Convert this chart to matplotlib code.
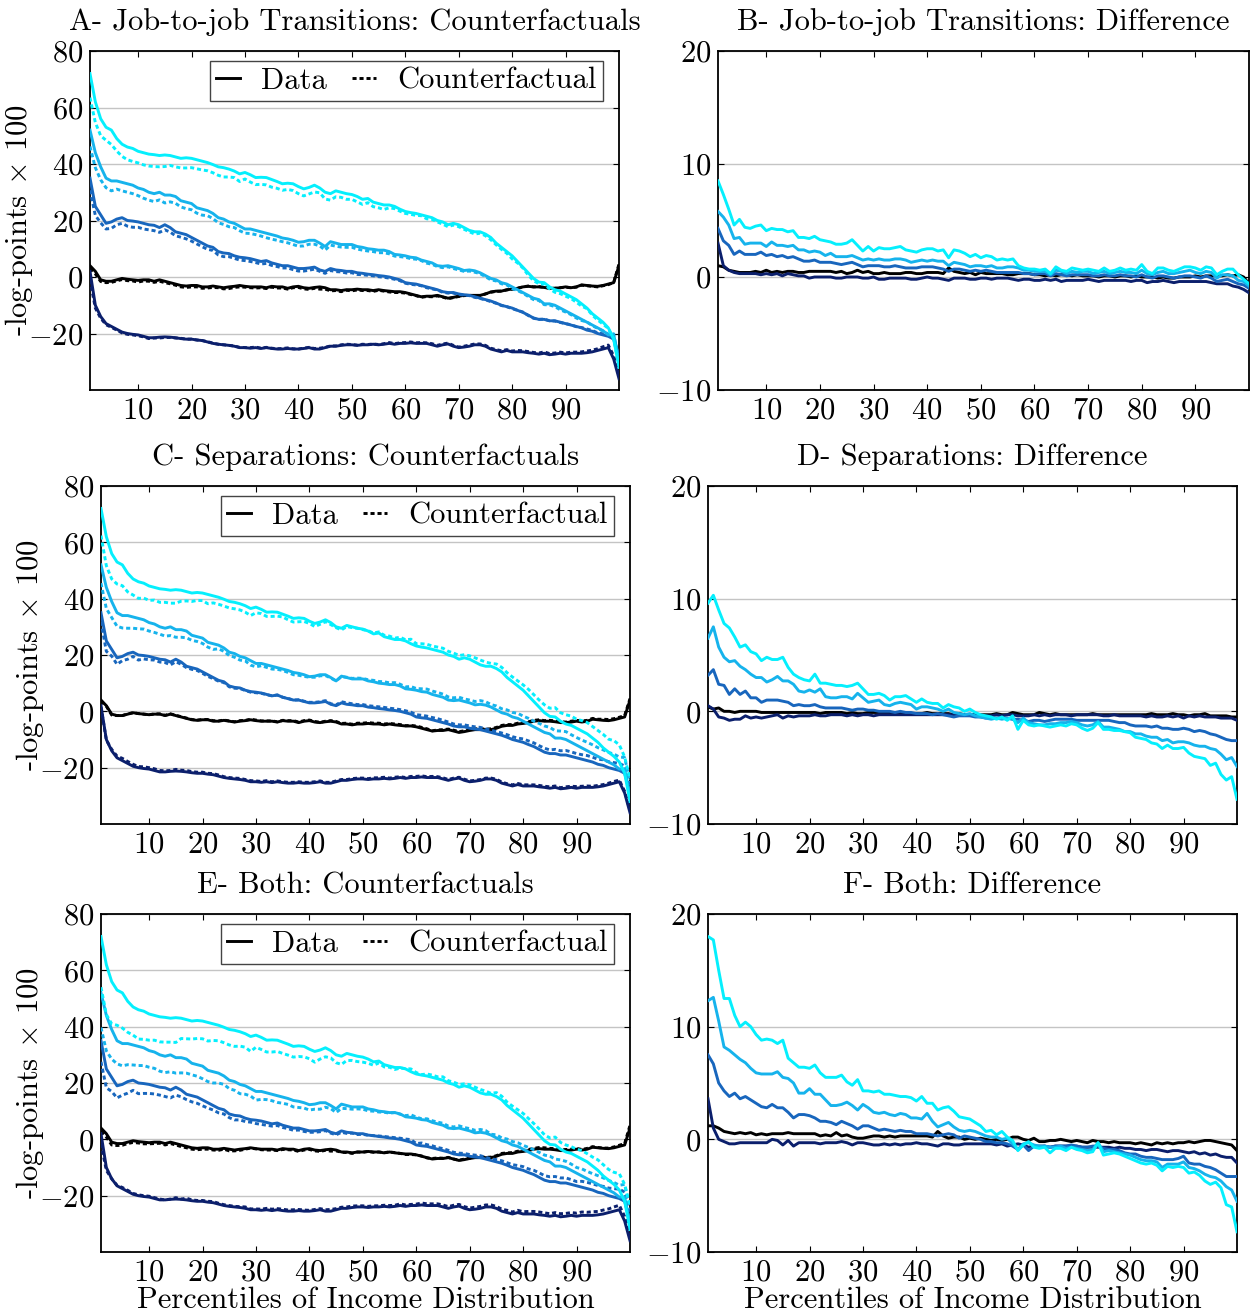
import numpy as np
import matplotlib
matplotlib.use("Agg")
import matplotlib.pyplot as plt
from matplotlib.lines import Line2D

# ---------------- data ----------------
pct = list(range(1, 101))

data_black = [4, 2, -1, -1.5, -1.5, -1, -0.5, -0.8, -1, -1.2, -1, -1, -1.5, -1, -1.5, -2, -2.5, -3, -3.2, -3,
              -3, -3.5, -3.5, -3.2, -3.5, -3.8, -3.5, -3.3, -3, -3.3, -3.5, -3.5, -3.5, -3.8, -3.3, -3.5, -3.5, -4, -3.5, -3.3,
              -3.8, -4, -3.7, -3.5, -3.8, -4.5, -4.5, -4.8, -4.5, -4.5, -4.3, -4.5, -4.5, -4.8, -4.5, -4.8, -5, -5.2, -5.2, -5.5,
              -6, -6.5, -7, -6.8, -6.8, -6.5, -7, -7.5, -7.2, -6.8, -6.5, -6.5, -6.5, -6.5, -6, -5.3, -5, -5, -4.5, -4.3,
              -4, -3.5, -3.3, -3.5, -3.5, -3.7, -4, -4, -3.8, -3.5, -3.8, -3.5, -2.8, -3, -3.2, -3.3, -3, -2.5, -2, 4]
data_navy = [2, -10, -14, -16.5, -17.5, -18.5, -19.5, -20, -20.3, -20.5, -21, -21.5, -21.5, -21.3, -21.2, -21.3, -21.5, -21.8, -22, -22,
             -22.3, -22.5, -23, -23.5, -23.8, -24, -24.2, -24.5, -25, -25, -25.2, -25, -25.3, -25, -25.3, -25.5, -25.5, -25.3, -25.5, -25.5,
             -25.3, -25, -25.5, -25.5, -25, -24.5, -24.5, -24.2, -24, -24, -24.2, -24, -24, -23.8, -24, -23.8, -23.5, -23.8, -23.5, -23.5,
             -23.3, -23.5, -23.5, -23.5, -24, -24.5, -24, -23.7, -24.5, -25, -24.8, -24.5, -24, -24, -24.5, -25.5, -26, -26.5, -26, -26.5,
             -26.5, -26.5, -26.8, -27, -27.3, -27, -27.5, -27.3, -27, -27.3, -27, -27, -27, -26.8, -26.5, -26, -25.5, -25, -29, -36]
data_blue = [35, 25, 22, 19, 19.5, 20.5, 21, 20, 19.8, 19.5, 19, 18.5, 18.3, 17.5, 18.5, 17.5, 16, 15.5, 15, 14,
             13, 12, 11, 10.5, 9, 8.5, 8.3, 7.5, 7, 6.8, 6.5, 6, 5.5, 5.8, 5, 4.5, 4, 4, 3.5, 3,
             3, 3.2, 3.5, 2.5, 2, 3, 2.5, 2.3, 2, 2, 1.5, 1.3, 1, 0.8, 0.5, 0.3, 0, -0.5, -1, -2,
             -2.3, -2.5, -3, -3.5, -4, -4.5, -5.2, -5.5, -5.5, -6, -6.3, -6.5, -7, -7.5, -8, -8.5, -9.2, -10, -10.5, -11,
             -11.8, -12.5, -13.5, -14.5, -15, -15, -15.5, -15.5, -16, -16.5, -17, -17.5, -18, -18.8, -19.2, -20, -20.5, -21, -22, -29]
data_lblue = [52, 44, 39, 35, 34, 34, 33.5, 33, 32.5, 31.5, 31, 30, 29.5, 30, 29, 29, 28.5, 27, 26.5, 26,
              24.5, 24, 23.5, 22.5, 21, 20.5, 19.5, 19, 18, 17, 17, 16.5, 16, 15.5, 15, 14.5, 13.8, 13.5, 13, 12.3,
              12.5, 13, 13, 12, 10.8, 12.5, 12, 11.5, 11.5, 11.5, 10.8, 10.5, 10, 9.8, 9.5, 9.5, 9, 8, 7.8, 7.5,
              7, 6.8, 6, 5.5, 5, 4, 3.8, 4, 3.5, 3, 2.3, 2.5, 2.2, 1.5, 0.5, -0.5, -1, -2, -2.5, -3.5,
              -4.5, -5.5, -6.5, -7.5, -8, -9.5, -9.5, -10, -11, -12, -13, -14, -15, -16, -17, -18, -19, -20.5, -20.5, -30]
data_cyan = [72, 62, 56, 53, 52, 49, 47, 46, 45.5, 44.5, 44, 43.5, 43.3, 43, 43.2, 43, 42.5, 42, 42.2, 42,
             41.5, 41, 40.5, 39.8, 39, 38.7, 38.2, 37.5, 36.5, 37, 36.2, 35.2, 35.3, 35.2, 34.5, 33.8, 33, 33.2, 33, 32,
             31.2, 31.7, 32.5, 31.5, 30, 29.5, 30.5, 30, 29.5, 29.2, 28.5, 27.5, 27.8, 26.5, 26, 25.5, 25.5, 25, 24, 23.2,
             22.8, 22.5, 22, 21.5, 21, 20, 19.5, 18.5, 19, 18.5, 17.5, 16.5, 16, 16, 15.2, 14, 12, 10.5, 9, 7.5,
             5.5, 3.5, 1.5, -0.5, -1.8, -2, -3.5, -4.5, -5, -6, -7, -8, -9.5, -11, -13, -14.5, -16, -18, -22, -32]

# Differences (data minus counterfactual), job-to-job transitions
j2j_black = [1.0, 0.9, 0.6, 0.5, 0.4, 0.4, 0.4, 0.5, 0.4, 0.6, 0.4, 0.5, 0.4, 0.5, 0.5, 0.4, 0.4, 0.5, 0.5, 0.5,
             0.5, 0.5, 0.4, 0.5, 0.3, 0.4, 0.6, 0.4, 0.5, 0.3, 0.3, 0.4, 0.3, 0.3, 0.3, 0.4, 0.4, 0.3, 0.3, 0.4,
             0.4, 0.4, 0.3, 0.8, 0.5, 0.4, 0.3, 0.4, 0.2, 0.4, 0.3, 0.3, 0.3, 0.3, 0.2, 0.2, 0.3, 0.3, 0.3, 0.2,
             0.2, 0.1, 0.2, 0.1, 0.2, 0.2, 0.1, 0.2, 0.1, 0.1, 0.1, 0.0, 0.1, 0.1, 0.0, 0.1, 0.1, 0.0, 0.1, 0.0,
             0.0, 0.0, -0.1, 0.0, -0.1, -0.1, 0.0, 0.0, 0.0, 0.1, 0.0, 0.1, 0.1, 0.1, 0.1, 0.2, 0.1, 0.2, 0.0, -0.6]
j2j_navy = [3.0, 1.0, 0.6, 0.4, 0.3, 0.3, 0.3, 0.3, 0.2, 0.3, 0.2, 0.3, 0.1, 0.3, 0.2, 0.1, 0.1, -0.1, 0.0, 0.0,
            0.0, 0.0, -0.1, -0.1, 0.0, 0.0, 0.0, -0.1, -0.1, 0.0, -0.2, -0.2, -0.1, -0.1, -0.1, -0.1, -0.2, -0.2, -0.1, 0.0,
            -0.1, -0.1, -0.2, -0.3, -0.1, -0.1, -0.1, -0.2, -0.2, -0.1, -0.1, -0.2, -0.1, -0.1, -0.1, -0.2, -0.3, -0.2, -0.2, -0.3,
            -0.3, -0.2, -0.3, -0.2, -0.4, -0.3, -0.3, -0.3, -0.3, -0.2, -0.3, -0.4, -0.3, -0.3, -0.3, -0.3, -0.3, -0.4, -0.3, -0.3,
            -0.5, -0.4, -0.4, -0.3, -0.4, -0.5, -0.4, -0.4, -0.4, -0.4, -0.4, -0.4, -0.5, -0.6, -0.6, -0.6, -0.8, -0.9, -1.1, -1.4]
j2j_blue = [4.3, 3.2, 2.8, 2.0, 2.3, 2.0, 2.0, 2.0, 2.2, 1.9, 2.0, 1.8, 1.9, 1.7, 1.8, 1.6, 1.4, 1.4, 1.5, 1.3,
            1.3, 1.3, 1.2, 1.1, 1.2, 1.3, 1.1, 0.9, 1.0, 1.0, 1.0, 0.9, 0.9, 1.0, 0.9, 0.8, 0.8, 0.8, 0.9, 0.9,
            0.9, 0.8, 0.7, 0.5, 0.7, 0.7, 0.6, 0.5, 0.6, 0.5, 0.6, 0.5, 0.4, 0.4, 0.4, 0.4, 0.4, 0.3, 0.3, 0.2,
            0.3, 0.3, 0.1, 0.3, 0.2, 0.1, 0.2, 0.2, 0.2, 0.2, 0.1, 0.1, 0.2, 0.1, 0.1, 0.2, 0.1, 0.1, 0.0, 0.2,
            0.0, -0.1, 0.1, 0.1, 0.0, -0.1, 0.0, 0.1, 0.1, 0.0, -0.1, 0.1, -0.1, -0.4, -0.3, -0.2, -0.4, -0.6, -0.7, -1.0]
j2j_lblue = [5.8, 5.3, 4.6, 3.4, 3.5, 2.9, 3.0, 3.0, 3.0, 2.7, 3.1, 2.8, 2.8, 2.7, 2.8, 2.4, 2.4, 2.2, 2.3, 2.2,
             1.9, 2.1, 1.8, 1.8, 1.8, 1.9, 1.7, 1.5, 1.6, 1.5, 1.6, 1.5, 1.5, 1.6, 1.6, 1.5, 1.3, 1.4, 1.5, 1.4,
             1.5, 1.4, 1.4, 1.0, 1.3, 1.2, 1.1, 0.9, 1.0, 1.0, 0.9, 1.0, 0.8, 0.8, 0.9, 0.9, 0.8, 0.6, 0.6, 0.5,
             0.5, 0.5, 0.2, 0.6, 0.5, 0.3, 0.5, 0.4, 0.5, 0.5, 0.3, 0.4, 0.5, 0.3, 0.4, 0.5, 0.4, 0.4, 0.3, 0.6,
             0.3, 0.2, 0.4, 0.5, 0.3, 0.3, 0.4, 0.5, 0.6, 0.4, 0.3, 0.5, 0.4, -0.1, 0.2, 0.2, 0.1, -0.3, -0.4, -0.8]
j2j_cyan = [8.5, 7.3, 6.0, 4.6, 5.1, 4.4, 4.3, 4.5, 4.6, 4.1, 4.3, 4.2, 4.2, 4.0, 4.1, 3.5, 3.5, 3.4, 3.6, 3.3,
            3.2, 3.1, 2.9, 2.9, 3.0, 3.3, 2.8, 2.3, 2.7, 2.3, 2.6, 2.5, 2.5, 2.6, 2.7, 2.4, 2.3, 2.2, 2.4, 2.5,
            2.5, 2.3, 2.4, 1.7, 2.4, 2.3, 2.1, 1.8, 2.0, 1.7, 1.9, 1.8, 1.5, 1.6, 1.5, 1.6, 1.0, 0.8, 0.7, 0.7,
            0.6, 0.7, 0.3, 0.9, 0.6, 0.5, 0.8, 0.7, 0.6, 0.7, 0.6, 0.5, 0.8, 0.5, 0.6, 0.8, 0.6, 0.7, 0.6, 1.1,
            0.5, 0.3, 0.8, 0.8, 0.6, 0.5, 0.7, 0.9, 0.9, 0.8, 0.6, 0.9, 0.8, 0.2, 0.5, 0.7, 0.7, 0.2, -0.2, -0.6]

# Differences, separations
sep_black = [0.4, 0.2, 0.3, 0.0, 0.0, -0.1, 0.0, 0.0, 0.0, 0.0, -0.1, -0.1, -0.1, -0.1, -0.1, -0.1, -0.1, -0.1, -0.1, -0.1,
             -0.1, -0.2, -0.1, -0.1, -0.1, -0.1, -0.2, -0.1, -0.2, -0.2, -0.1, -0.1, -0.1, -0.1, -0.1, -0.2, -0.2, -0.2, -0.2, -0.2,
             -0.2, -0.1, -0.2, -0.2, -0.2, -0.2, -0.3, -0.2, -0.3, -0.3, -0.3, -0.3, -0.3, -0.3, -0.2, -0.3, -0.3, -0.1, -0.2, -0.3,
             -0.3, -0.3, -0.1, -0.2, -0.3, -0.2, -0.3, -0.3, -0.3, -0.3, -0.3, -0.3, -0.2, -0.3, -0.3, -0.3, -0.3, -0.3, -0.3, -0.3,
             -0.3, -0.3, -0.3, -0.2, -0.3, -0.3, -0.3, -0.2, -0.3, -0.3, -0.4, -0.3, -0.3, -0.2, -0.4, -0.4, -0.4, -0.4, -0.5, -0.5]
sep_navy = [0.5, 0.2, -0.5, -0.6, -0.8, -0.7, -0.7, -0.4, -0.6, -0.5, -0.6, -0.5, -0.4, -0.3, -0.6, -0.4, -0.5, -0.4, -0.4, -0.4,
            -0.3, -0.4, -0.4, -0.3, -0.3, -0.3, -0.4, -0.3, -0.4, -0.3, -0.3, -0.4, -0.3, -0.3, -0.3, -0.3, -0.3, -0.3, -0.3, -0.3,
            -0.3, -0.3, -0.3, -0.3, -0.3, -0.3, -0.3, -0.3, -0.3, -0.3, -0.3, -0.4, -0.4, -0.4, -0.3, -0.4, -0.3, -0.3, -0.4, -0.4,
            -0.4, -0.3, -0.4, -0.3, -0.4, -0.3, -0.3, -0.3, -0.4, -0.3, -0.3, -0.3, -0.3, -0.3, -0.4, -0.4, -0.3, -0.4, -0.4, -0.4,
            -0.4, -0.4, -0.5, -0.4, -0.5, -0.5, -0.4, -0.5, -0.4, -0.6, -0.4, -0.5, -0.4, -0.5, -0.5, -0.5, -0.6, -0.6, -0.6, -0.8]
sep_blue = [3.2, 3.7, 2.4, 2.3, 1.5, 2.0, 1.5, 1.8, 1.2, 1.2, 0.8, 1.0, 1.0, 1.0, 0.9, 0.8, 0.5, 0.6, 0.5, 0.5,
            0.6, 0.4, 0.3, 0.3, 0.3, 0.3, 0.2, 0.1, 0.2, 0.2, 0.1, 0.1, 0.0, 0.0, 0.0, -0.1, 0.0, -0.1, -0.1, -0.2,
            -0.2, -0.2, -0.3, -0.2, -0.3, -0.4, -0.5, -0.4, -0.4, -0.4, -0.5, -0.5, -0.6, -0.6, -0.6, -0.6, -0.6, -0.7, -0.7, -0.8,
            -0.9, -0.8, -0.8, -0.9, -0.8, -0.7, -0.7, -0.7, -0.7, -0.8, -0.8, -0.8, -0.8, -0.8, -0.8, -0.8, -0.9, -1.0, -1.0, -1.2,
            -1.3, -1.3, -1.3, -1.4, -1.3, -1.5, -1.5, -1.6, -1.6, -1.5, -1.6, -1.8, -1.7, -1.8, -2.0, -2.1, -2.3, -2.5, -2.6, -2.6]
sep_lblue = [6.5, 7.5, 5.7, 4.8, 4.4, 4.5, 4.0, 3.7, 3.3, 3.0, 3.0, 2.6, 2.8, 3.1, 2.7, 2.7, 2.4, 1.8, 1.7, 1.9,
             1.7, 2.0, 1.3, 1.2, 1.2, 1.3, 1.3, 1.1, 1.6, 1.2, 0.8, 0.9, 1.0, 0.6, 0.5, 0.7, 0.8, 0.7, 0.6, 0.2,
             0.4, 0.4, 0.3, 0.2, 0.0, 0.2, -0.1, -0.2, -0.3, -0.2, -0.4, -0.5, -0.6, -0.7, -0.6, -0.7, -0.6, -0.7, -1.0, -0.6,
             -1.0, -1.1, -1.2, -1.2, -1.1, -1.1, -1.0, -1.0, -0.9, -1.0, -1.2, -1.3, -1.2, -0.9, -1.4, -1.4, -1.5, -1.6, -1.8, -1.8,
             -2.0, -2.0, -2.2, -2.3, -2.3, -2.6, -2.5, -2.8, -2.7, -2.7, -2.8, -3.0, -3.1, -3.1, -3.3, -3.4, -3.8, -4.3, -4.1, -4.9]
sep_cyan = [9.6, 10.3, 9.0, 7.8, 7.4, 6.6, 5.7, 5.9, 5.3, 5.1, 4.5, 4.8, 4.6, 4.6, 4.8, 3.9, 3.3, 3.0, 2.8, 2.7,
            3.3, 2.5, 2.5, 2.4, 2.3, 2.3, 2.2, 2.3, 2.5, 2.0, 1.5, 1.5, 1.6, 1.4, 1.0, 1.3, 1.3, 1.4, 1.1, 0.8,
            1.1, 0.8, 0.7, 0.7, 0.3, 0.6, 0.4, 0.3, 0.0, 0.2, -0.1, -0.3, -0.4, -0.5, -0.7, -0.5, -0.8, -0.4, -1.6, -0.8,
            -1.2, -1.3, -1.2, -1.3, -1.4, -1.3, -1.2, -1.3, -1.1, -1.2, -1.5, -1.7, -1.5, -1.0, -1.6, -1.6, -1.7, -1.7, -1.8, -1.9,
            -2.3, -2.4, -2.5, -2.8, -2.9, -3.3, -3.0, -3.3, -3.3, -3.2, -3.7, -4.0, -4.1, -4.2, -4.8, -4.6, -5.6, -6.1, -5.8, -7.8]

# Differences, both
both_black = [1.2, 1.2, 1.0, 0.7, 0.6, 0.5, 0.6, 0.5, 0.6, 0.4, 0.5, 0.4, 0.5, 0.5, 0.5, 0.6, 0.5, 0.5, 0.5, 0.5,
              0.5, 0.3, 0.4, 0.3, 0.6, 0.3, 0.4, 0.2, 0.1, 0.1, 0.2, 0.3, 0.3, 0.2, 0.3, 0.2, 0.3, 0.3, 0.3, 0.3,
              0.3, 0.3, 0.2, 0.7, 0.3, 0.1, 0.2, 0.2, 0.0, 0.1, 0.0, 0.1, 0.0, -0.1, 0.0, -0.1, 0.0, 0.2, 0.2, 0.0,
              -0.1, 0.1, -0.2, -0.2, -0.1, -0.1, 0.0, -0.1, -0.2, -0.1, -0.2, -0.3, -0.1, -0.2, -0.2, -0.3, -0.2, -0.3, -0.3, -0.3,
              -0.4, -0.3, -0.4, -0.5, -0.3, -0.4, -0.3, -0.4, -0.3, -0.3, -0.2, -0.3, -0.2, -0.1, -0.1, -0.2, -0.3, -0.4, -0.5, -1.0]
both_navy = [3.6, 1.0, 0.0, -0.2, -0.4, -0.4, -0.3, -0.3, -0.3, -0.3, -0.3, -0.3, 0.0, -0.1, -0.5, -0.1, -0.6, -0.3, -0.3, -0.3,
             -0.3, -0.4, -0.3, -0.3, -0.3, -0.2, -0.3, -0.5, -0.3, -0.3, -0.4, -0.5, -0.5, -0.4, -0.5, -0.4, -0.5, -0.4, -0.4, -0.3,
             -0.4, -0.4, -0.5, -0.6, -0.4, -0.4, -0.5, -0.5, -0.4, -0.4, -0.4, -0.4, -0.4, -0.4, -0.5, -0.4, -0.6, -0.5, -0.4, -0.5,
             -0.7, -0.6, -0.6, -0.6, -0.7, -0.6, -0.6, -0.6, -0.6, -0.6, -0.7, -0.7, -0.7, -0.7, -0.7, -0.7, -0.8, -0.7, -0.8, -0.8,
             -0.9, -0.9, -1.0, -0.9, -0.9, -1.0, -1.1, -1.0, -1.0, -1.1, -1.2, -1.1, -1.3, -1.2, -1.4, -1.3, -1.5, -1.6, -1.6, -2.1]
both_blue = [7.5, 6.7, 5.0, 4.3, 3.8, 4.1, 3.6, 3.8, 3.5, 3.2, 2.9, 2.8, 3.1, 2.8, 2.8, 2.4, 1.9, 2.2, 2.2, 2.1,
             1.9, 1.6, 1.6, 1.5, 1.3, 1.6, 1.4, 1.2, 0.9, 1.2, 1.2, 1.0, 0.8, 0.9, 0.8, 0.7, 0.8, 0.7, 0.7, 0.5,
             0.5, 0.5, 0.4, 0.3, 0.4, 0.5, 0.4, 0.1, 0.3, 0.2, 0.1, 0.0, -0.2, -0.2, -0.3, -0.3, -0.4, -0.6, -0.9, -0.5,
             -1.0, -0.6, -0.7, -0.6, -0.7, -0.6, -0.6, -0.6, -0.5, -0.6, -0.7, -0.7, -0.6, -0.6, -0.8, -0.9, -0.9, -1.0, -1.2, -1.3,
             -1.3, -1.5, -1.6, -1.6, -1.7, -1.8, -1.8, -1.8, -1.7, -1.5, -2.1, -2.2, -2.2, -2.4, -2.5, -2.7, -3.0, -3.3, -3.3, -3.3]
both_lblue = [12.3, 12.6, 10.5, 8.2, 7.9, 7.5, 7.1, 6.8, 6.3, 5.9, 5.8, 5.8, 5.8, 6.0, 5.5, 5.4, 5.0, 4.1, 4.1, 4.5,
              4.0, 4.0, 3.5, 3.0, 3.0, 3.1, 3.3, 3.0, 2.6, 3.1, 2.8, 2.4, 2.3, 2.4, 2.2, 2.1, 2.3, 2.2, 1.9, 1.9,
              1.8, 2.3, 1.6, 1.1, 1.3, 1.5, 1.1, 0.8, 0.7, 0.8, 0.7, 0.5, 0.3, 0.2, 0.2, 0.0, 0.1, -0.4, -0.9, -0.4,
              -0.3, -0.5, -0.6, -0.6, -0.7, -0.7, -0.6, -0.8, -0.7, -0.8, -0.9, -1.0, -0.9, -0.3, -1.1, -1.0, -1.1, -1.2, -1.3, -1.4,
              -1.6, -1.8, -1.9, -1.9, -2.0, -2.5, -2.2, -2.2, -2.2, -2.0, -2.5, -2.6, -2.8, -3.1, -3.3, -3.4, -3.7, -4.2, -4.5, -5.5]
both_cyan = [18.0, 17.7, 15.0, 12.5, 12.5, 11.0, 10.0, 10.4, 10.0, 9.3, 8.8, 8.9, 8.8, 8.5, 8.8, 7.2, 6.8, 6.4, 6.4, 6.3,
             6.6, 5.9, 5.5, 5.5, 5.5, 5.7, 5.1, 4.8, 5.3, 4.3, 4.3, 4.2, 4.3, 4.0, 4.0, 3.9, 3.8, 3.8, 3.7, 3.4,
             3.8, 3.2, 3.2, 2.6, 2.8, 2.9, 2.5, 2.0, 1.9, 1.8, 1.5, 1.2, 0.7, 0.8, 0.4, 0.7, 0.2, -0.1, -1.0, -0.5,
             -0.2, -0.7, -0.8, -0.7, -1.2, -0.8, -0.8, -1.0, -0.7, -0.9, -1.0, -1.2, -1.1, -0.3, -1.4, -1.3, -1.2, -1.3, -1.5, -1.7,
             -1.9, -2.1, -2.2, -2.1, -2.3, -2.8, -2.4, -2.5, -2.4, -2.5, -3.0, -2.9, -3.2, -3.7, -4.0, -3.8, -4.3, -5.8, -6.0, -8.2]

titles = ["A- Job-to-job Transitions: Counterfactuals", "B- Job-to-job Transitions: Difference",
          "C- Separations: Counterfactuals", "D- Separations: Difference",
          "E- Both: Counterfactuals", "F- Both: Difference"]
xticks = [10, 20, 30, 40, 50, 60, 70, 80, 90]
left_yticks = [-20, 0, 20, 40, 60, 80]
right_yticks = [-10, 0, 10, 20]

# ---------------- style ----------------
plt.rcParams['font.family'] = 'cmr10'
plt.rcParams['mathtext.fontset'] = 'cm'
plt.rcParams['axes.formatter.use_mathtext'] = True
plt.rcParams['axes.unicode_minus'] = True
FS = 22

colors = {'black': '#000000', 'navy': '#0b1f6c', 'blue': '#1866bd',
          'lblue': '#16b3ec', 'cyan': '#05effd'}
series_order = ['black', 'navy', 'blue', 'lblue', 'cyan']
data = {'black': data_black, 'navy': data_navy, 'blue': data_blue, 'lblue': data_lblue, 'cyan': data_cyan}
diffs = [
    {'black': j2j_black, 'navy': j2j_navy, 'blue': j2j_blue, 'lblue': j2j_lblue, 'cyan': j2j_cyan},
    {'black': sep_black, 'navy': sep_navy, 'blue': sep_blue, 'lblue': sep_lblue, 'cyan': sep_cyan},
    {'black': both_black, 'navy': both_navy, 'blue': both_blue, 'lblue': both_lblue, 'cyan': both_cyan},
]

W, H = 1250, 1312
fig = plt.figure(figsize=(W / 100, H / 100), dpi=100)

def box(x0, y0, x1, y1):
    return [x0 / W, 1 - y1 / H, (x1 - x0) / W, (y1 - y0) / H]

left_boxes = [box(90, 51, 619, 390), box(101, 486, 630, 824), box(101, 914, 630, 1252)]
right_boxes = [box(718, 51, 1249, 390), box(708, 486, 1237, 824), box(708, 914, 1237, 1252)]

LW = 2.1
DOT = (0, (1.4, 1.0))

def style_axes(ax, yticks, ylim):
    ax.set_xlim(1, 100)
    ax.set_ylim(*ylim)
    ax.set_xticks(xticks)
    ax.set_yticks(yticks)
    ax.tick_params(axis='both', direction='in', labelsize=FS, length=4, width=0.8,
                   top=True, right=True, pad=5)
    ax.grid(axis='y', color='#c4c4c4', linewidth=1.0)
    ax.grid(axis='x', visible=False)
    ax.set_axisbelow(True)
    for s in ax.spines.values():
        s.set_linewidth(1.3)
        s.set_color('black')

x = np.array(pct)
for i in range(3):
    axl = fig.add_axes(left_boxes[i])
    axr = fig.add_axes(right_boxes[i])
    for name in series_order:
        d = np.array(data[name])
        cf = d - np.array(diffs[i][name])
        axl.plot(x, d, color=colors[name], lw=LW, zorder=3)
        axl.plot(x, cf, color=colors[name], lw=LW, linestyle=DOT, zorder=3)
        axr.plot(x, diffs[i][name], color=colors[name], lw=LW, zorder=3)
    style_axes(axl, left_yticks, (-40, 80))
    style_axes(axr, right_yticks, (-10, 20))
    axl.set_title(titles[2 * i], fontsize=FS, pad=15)
    axr.set_title(titles[2 * i + 1], fontsize=FS, pad=15)
    axl.set_ylabel("-log-points $\\times$ 100", fontsize=FS, labelpad=-5)
    handles = [Line2D([], [], color='black', lw=LW),
               Line2D([], [], color='black', lw=LW, linestyle=DOT)]
    leg = axl.legend(handles, ['Data', 'Counterfactual'], ncol=2, fontsize=FS,
                     loc='upper right', bbox_to_anchor=(0.97, 0.97), borderaxespad=0,
                     fancybox=False, framealpha=1, edgecolor='#444444',
                     handlelength=0.8, columnspacing=0.8, handletextpad=0.7,
                     borderpad=0.2)
    leg.get_frame().set_linewidth(1.0)
    if i == 2:
        axl.set_xlabel("Percentiles of Income Distribution", fontsize=FS, labelpad=0)
        axr.set_xlabel("Percentiles of Income Distribution", fontsize=FS, labelpad=0)

fig.savefig("out.png", dpi=100)
